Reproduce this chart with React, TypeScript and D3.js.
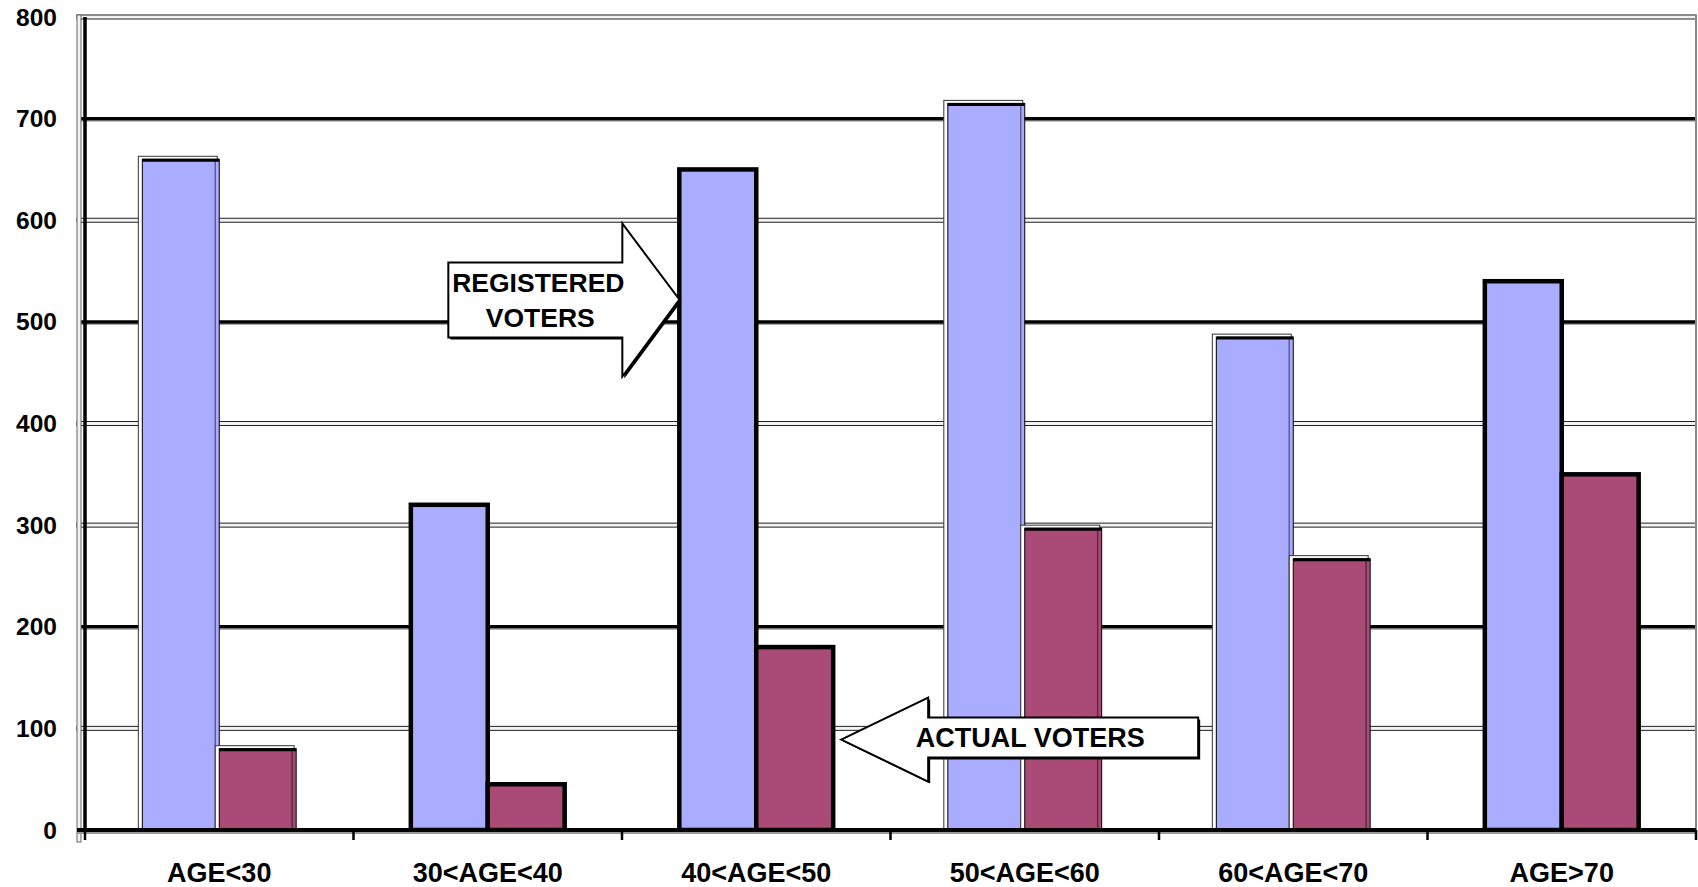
import React from 'react';
import * as d3 from 'd3';

// chart data
const categories = ['AGE<30', '30<AGE<40', '40<AGE<50', '50<AGE<60', '60<AGE<70', 'AGE>70'];
const registeredVoters = [660, 320, 650, 715, 485, 540];
const actualVoters = [80, 45, 180, 297, 267, 350];
const yTicks = [0, 100, 200, 300, 400, 500, 600, 700, 800];
const heavyGridValues = [200, 500, 700];

// groups that were drawn with a heavy outline in the original
const heavyOutline = [false, true, true, false, false, true];

const W = 1698;
const H = 887;
const FONT = '"Liberation Sans", Arial, sans-serif';
const BLUE = '#aaacff';
const PLUM = '#aa4a77';

const App: React.FC = () => {
  const x = d3.scaleBand<string>()
    .domain(categories)
    .range([85, 1696])
    .paddingInner(0.427)
    .paddingOuter(0.2135);

  const sub = d3.scaleBand<string>()
    .domain(['registered', 'actual'])
    .range([0, x.bandwidth()]);

  const y = d3.scaleLinear().domain([0, 800]).range([830, 17]);

  const [x0, x1] = x.range();
  const step = x.step();

  const bars = categories.flatMap((c, i) => [
    { key: `r${i}`, x: x(c)! + sub('registered')!, v: registeredVoters[i], fill: BLUE, heavy: heavyOutline[i] },
    { key: `a${i}`, x: x(c)! + sub('actual')!, v: actualVoters[i], fill: PLUM, heavy: heavyOutline[i] },
  ]);
  const bw = sub.bandwidth();

  // arrow tips anchored to the 40<AGE<50 bars
  const regTip: [number, number] = [x('40<AGE<50')! + sub('registered')!, y(522)];
  const actTip: [number, number] = [x('40<AGE<50')! + sub('actual')! + bw + 8, y(89)];

  const rightArrow = (tx: number, ty: number) => {
    const pts: [number, number][] = [
      [tx - 231, ty - 37], [tx - 57, ty - 37], [tx - 57, ty - 76], [tx, ty],
      [tx - 57, ty + 77], [tx - 57, ty + 38], [tx - 231, ty + 38],
    ];
    return pts.map(p => p.join(',')).join(' ');
  };
  const leftArrow = (tx: number, ty: number) => {
    const pts: [number, number][] = [
      [tx, ty], [tx + 87, ty - 42], [tx + 87, ty - 22], [tx + 357, ty - 22],
      [tx + 357, ty + 18], [tx + 87, ty + 18], [tx + 87, ty + 42],
    ];
    return pts.map(p => p.join(',')).join(' ');
  };

  return (
    <svg width={W} height={H} style={{ position: 'absolute', left: 0, top: 0, background: '#fff' }}>
      {/* gridlines */}
      {yTicks.filter(t => t > 0).map(t => heavyGridValues.includes(t) ? (
        <g key={t}>
          <line x1={x0 - 8} x2={x1} y1={y(t) + 2.5} y2={y(t) + 2.5} stroke="#999" strokeWidth={1} />
          <line x1={x0 - 8} x2={x1} y1={y(t)} y2={y(t)} stroke="#000" strokeWidth={3.5} />
        </g>
      ) : (
        <rect key={t} x={x0 - 8} y={y(t) - 2} width={x1 - x0 + 8} height={4}
          fill="#f2f2f2" stroke="#222" strokeWidth={1} />
      ))}

      {/* frame: right edge and left axis with its ghost */}
      <line x1={x1} x2={x1} y1={y(800) - 2} y2={y(0)} stroke="#888" strokeWidth={2} />
      <rect x={x0 - 8} y={y(800) - 2} width={4} height={y(0) - y(800) + 14}
        fill="#f2f2f2" stroke="#666" strokeWidth={1} />
      <line x1={x0} x2={x0} y1={y(800)} y2={y(0) + 2} stroke="#000" strokeWidth={3.5} />

      {/* bars */}
      {bars.map(b => {
        const top = y(b.v);
        const h = y(0) - top;
        return (
          <g key={b.key}>
            {!b.heavy && (
              <rect x={b.x - 4} y={top - 3} width={bw + 2} height={h + 3}
                fill="#fff" stroke="#333" strokeWidth={1} />
            )}
            <rect x={b.x} y={top} width={bw} height={h} fill={b.fill}
              stroke="#000" strokeWidth={b.heavy ? 4.5 : 1} />
            {!b.heavy && (
              <>
                <line x1={b.x} x2={b.x + bw} y1={top + 1} y2={top + 1} stroke="#000" strokeWidth={3} />
                <line x1={b.x + bw - 4} x2={b.x + bw - 4} y1={top} y2={y(0)}
                  stroke="#000" strokeOpacity={0.45} strokeWidth={1.5} />
              </>
            )}
          </g>
        );
      })}

      {/* baseline and category ticks */}
      <line x1={x0 - 8} x2={x1} y1={y(0) + 3} y2={y(0) + 3} stroke="#999" strokeWidth={2} />
      <line x1={x0 - 8} x2={x1} y1={y(0)} y2={y(0)} stroke="#000" strokeWidth={4} />
      {d3.range(categories.length + 1).map(i => (
        <line key={i} x1={x0 + i * step} x2={x0 + i * step} y1={y(0)} y2={y(0) + 10}
          stroke="#000" strokeWidth={2.5} />
      ))}

      {/* y tick labels */}
      {yTicks.map(t => (
        <text key={t} x={57} y={y(t)} dy="0.35em" textAnchor="end"
          fontFamily={FONT} fontWeight="bold" fontSize={24.5} fill="#000">{t}</text>
      ))}

      {/* category labels */}
      {categories.map(c => (
        <text key={c} x={x(c)! + x.bandwidth() / 2} y={882} textAnchor="middle"
          fontFamily={FONT} fontWeight="bold" fontSize={27} fill="#000">{c}</text>
      ))}

      {/* annotation arrows */}
      <polygon points={rightArrow(regTip[0] + 2, regTip[1] + 2)} fill="#000" />
      <polygon points={rightArrow(regTip[0], regTip[1])} fill="#fff" stroke="#000" strokeWidth={2} strokeLinejoin="miter" />
      <text x={regTip[0] - 141} y={regTip[1] - 8} textAnchor="middle"
        fontFamily={FONT} fontWeight="bold" fontSize={26.5} fill="#000">REGISTERED</text>
      <text x={regTip[0] - 139} y={regTip[1] + 27} textAnchor="middle"
        fontFamily={FONT} fontWeight="bold" fontSize={26.5} fill="#000">VOTERS</text>

      <polygon points={leftArrow(actTip[0] + 2, actTip[1] + 2)} fill="#000" />
      <polygon points={leftArrow(actTip[0], actTip[1])} fill="#fff" stroke="#000" strokeWidth={2} strokeLinejoin="miter" />
      <text x={actTip[0] + 189} y={actTip[1] + 7} textAnchor="middle"
        fontFamily={FONT} fontWeight="bold" fontSize={27} fill="#000">ACTUAL VOTERS</text>
    </svg>
  );
};

export default App;
